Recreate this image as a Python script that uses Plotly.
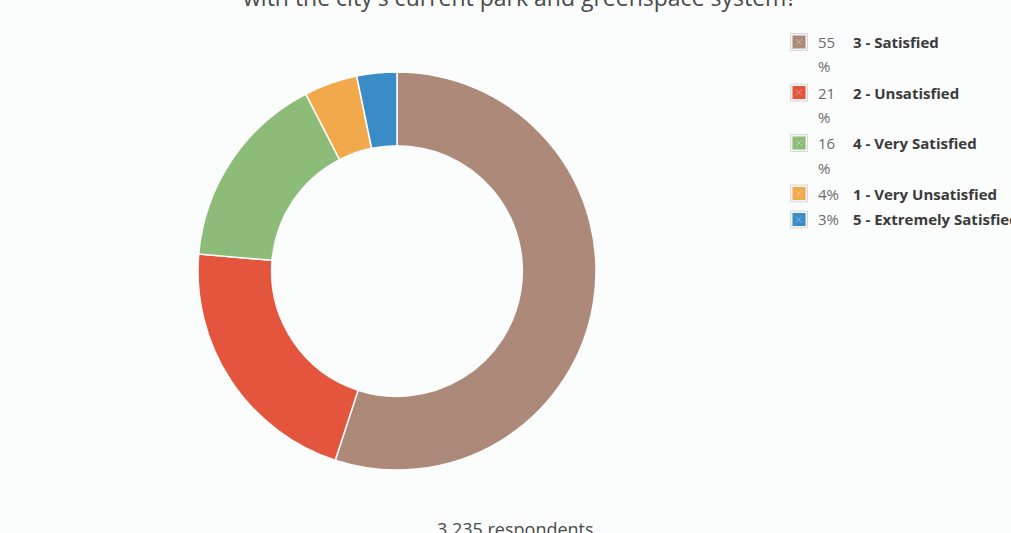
import plotly.graph_objects as go

# Survey responses (counts) in the order the ring is drawn, clockwise from 12 o'clock
labels = ["3 - Satisfied", "2 - Unsatisfied", "4 - Very Satisfied",
          "1 - Very Unsatisfied", "5 - Extremely Satisfied"]
counts = [1780, 690, 520, 140, 105]
colors = ["#ad897a", "#e4553e", "#8dbb78", "#f2a94b", "#3a8cc6"]
title_text = "with the city's current park and greenspace system?"
footer_text = "3,235 respondents"

W, H = 1011, 533
total = sum(counts)
pcts = [round(c / total * 100) for c in counts]


def px_x(x):
    return x / W


def px_y(y):
    return 1 - y / H


fig = go.Figure()
fig.add_trace(go.Pie(
    labels=labels,
    values=counts,
    marker=dict(colors=colors, line=dict(color="#fbfcfc", width=1.5)),
    hole=0.63,
    sort=False,
    direction="clockwise",
    rotation=0,
    textinfo="none",
    showlegend=False,
    domain=dict(x=[px_x(397 - 199), px_x(397 + 199)],
                y=[px_y(271 + 199), px_y(271 - 199)]),
))

annotations = []
shapes = []

# Hand-built legend: swatch, percentage column (wraps when wide), bold label
row_y = 42.0
line_pitch = 24.5
for lab, pct, col in zip(labels, pcts, colors):
    pct_str = f"{pct}%"
    lines = [f"{pct}", "%"] if len(pct_str) > 2 else [pct_str]

    # swatch
    shapes.append(dict(type="rect", xref="paper", yref="paper",
                       x0=px_x(790.5), x1=px_x(807.5),
                       y0=px_y(row_y + 8.5), y1=px_y(row_y - 8.5),
                       fillcolor="#f4f4f4", line=dict(color="#d8d8d8", width=1)))
    shapes.append(dict(type="rect", xref="paper", yref="paper",
                       x0=px_x(792.5), x1=px_x(805.5),
                       y0=px_y(row_y + 6.5), y1=px_y(row_y - 6.5),
                       fillcolor=col, line=dict(width=0)))
    for a, b in [((796, row_y - 3), (802, row_y + 3)), ((796, row_y + 3), (802, row_y - 3))]:
        shapes.append(dict(type="line", xref="paper", yref="paper",
                           x0=px_x(a[0]), y0=px_y(a[1]), x1=px_x(b[0]), y1=px_y(b[1]),
                           line=dict(color="rgba(255,255,255,0.35)", width=1)))

    for i, ln in enumerate(lines):
        annotations.append(dict(
            text=ln, xref="paper", yref="paper",
            x=px_x(816), y=px_y(row_y + i * line_pitch),
            xanchor="left", yanchor="middle", showarrow=False,
            font=dict(family="Open Sans", size=15, color="#6b6b6b"),
        ))
    annotations.append(dict(
        text=f"<b>{lab}</b>", xref="paper", yref="paper",
        x=px_x(851), y=px_y(row_y),
        xanchor="left", yanchor="middle", showarrow=False,
        font=dict(family="Open Sans", size=15, color="#3a3a3a"),
    ))
    row_y += len(lines) * line_pitch + 1.5

# Title line (sits partly above the top edge) and respondent count below
annotations.append(dict(
    text=title_text, xref="paper", yref="paper",
    x=px_x(519), y=px_y(-2.5), xanchor="center", yanchor="middle",
    showarrow=False, font=dict(family="Open Sans", size=23, color="#4a4a4a"),
))
annotations.append(dict(
    text=footer_text, xref="paper", yref="paper",
    x=px_x(515), y=px_y(529), xanchor="center", yanchor="middle",
    showarrow=False, font=dict(family="Open Sans", size=18, color="#4a4a4a"),
))

fig.update_layout(
    width=W, height=H,
    margin=dict(l=0, r=0, t=0, b=0),
    paper_bgcolor="#fbfcfc",
    plot_bgcolor="#fbfcfc",
    annotations=annotations,
    shapes=shapes,
)

fig.write_html("out.html")
